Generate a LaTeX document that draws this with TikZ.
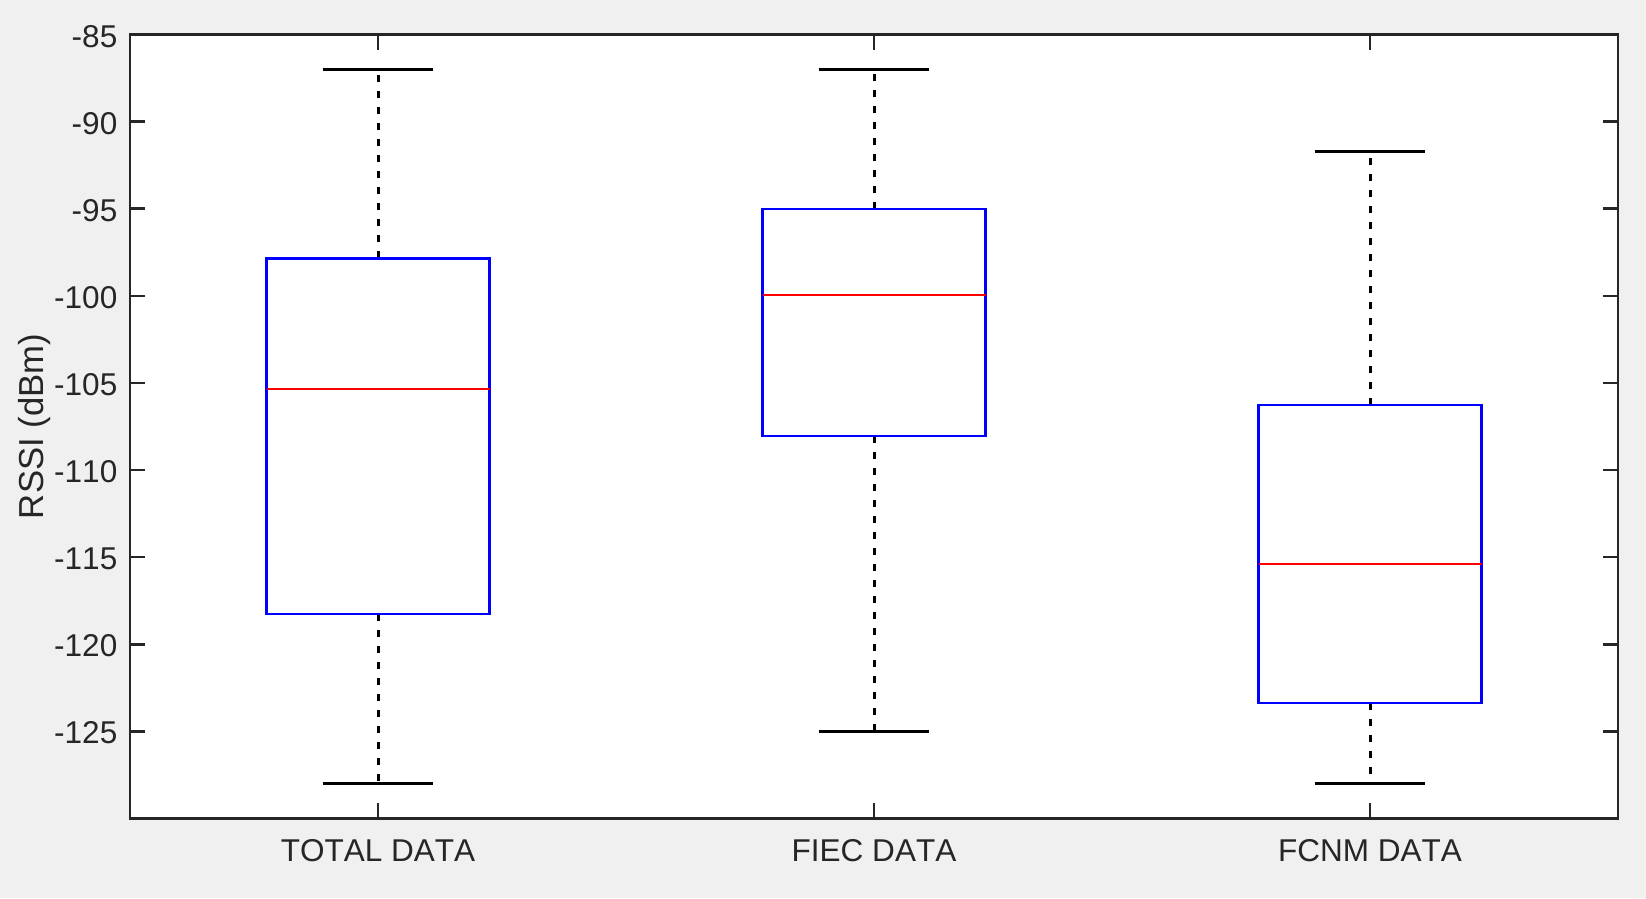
\documentclass[tikz,border=0pt]{standalone}
\usepackage{fontspec}
\setmainfont{Liberation Sans}[Kerning = Off]
\definecolor{axisgray}{HTML}{262626}
\definecolor{figgray}{HTML}{F0F0F0}

\begin{document}
\begin{tikzpicture}
\tikzstyle{BoxStyle}=[draw = blue, line width = 0.7pt]
\tikzstyle{MedianStyle}=[draw = red, line width = 0.7pt]
\tikzstyle{WhiskerStyle}=[draw = black, line width = 0.85pt,
                          dash pattern = on 2.1pt off 2.45pt]
\tikzstyle{CapStyle}=[draw = black, line width = 0.75pt]
\tikzstyle{AxisStyle}=[draw = axisgray, line width = 0.75pt]
\tikzstyle{TickLabel}=[text = axisgray, inner sep = 0pt,
                       font = \fontsize{8.97}{10}\selectfont]

\useasboundingbox[fill = figgray] (0,0) rectangle (16.46,8.98);
\node[text = axisgray, rotate = 90, anchor = base, inner sep = 0pt,
      font = \fontsize{9.87}{11}\selectfont] (ylabel) at (0.433,4.715) {RSSI (dBm)};

\begin{scope}[shift = {(-1.18,23.441)}, x = 4.96cm, y = 0.1742cm]
\fill[white] (0.5,-130) rectangle (3.5,-85);
% boxes: position / upper whisker / q3 / median / q1 / lower whisker
\foreach \i/\uw/\qt/\md/\qo/\lw in {1/-87/-97.85/-105.35/-118.27/-128,
                                    2/-87/-95.03/-99.95/-108.05/-125,
                                    3/-91.7/-106.27/-115.4/-123.37/-128}
{
\draw[WhiskerStyle] (\i,\qt) -- (\i,\uw);
\draw[WhiskerStyle] (\i,\qo) -- (\i,\lw);
\draw[CapStyle] (\i-0.1115,\uw) -- (\i+0.1115,\uw);
\draw[CapStyle] (\i-0.1115,\lw) -- (\i+0.1115,\lw);
\draw[BoxStyle] (\i-0.2248,\qo) rectangle (\i+0.2248,\qt);
\draw[MedianStyle] (\i-0.2248,\md) -- (\i+0.2248,\md);
}
% y ticks
\foreach \v [count = \n] in {-85,-90,...,-125}
{
\draw[AxisStyle] (0.5,\v) -- ++(0.15cm,0);
\draw[AxisStyle] (3.5,\v) -- ++(-0.15cm,0);
\node[TickLabel, anchor = east, text height = 0.72em, text depth = 0pt]
     (ytick\n) at ([xshift = -0.12cm]0.5,\v) {\v};
}
% x ticks
\foreach \i/\lab in {1/TOTAL DATA, 2/FIEC DATA, 3/FCNM DATA}
{
\draw[AxisStyle] (\i,-130) -- ++(0,0.15cm);
\draw[AxisStyle] (\i,-85) -- ++(0,-0.15cm);
\node[TickLabel, anchor = base] (xtick\i) at ([yshift = -0.435cm]\i,-130) {\lab};
}
\draw[AxisStyle] (0.5,-130) rectangle (3.5,-85);
\end{scope}
\end{tikzpicture}
\end{document}
